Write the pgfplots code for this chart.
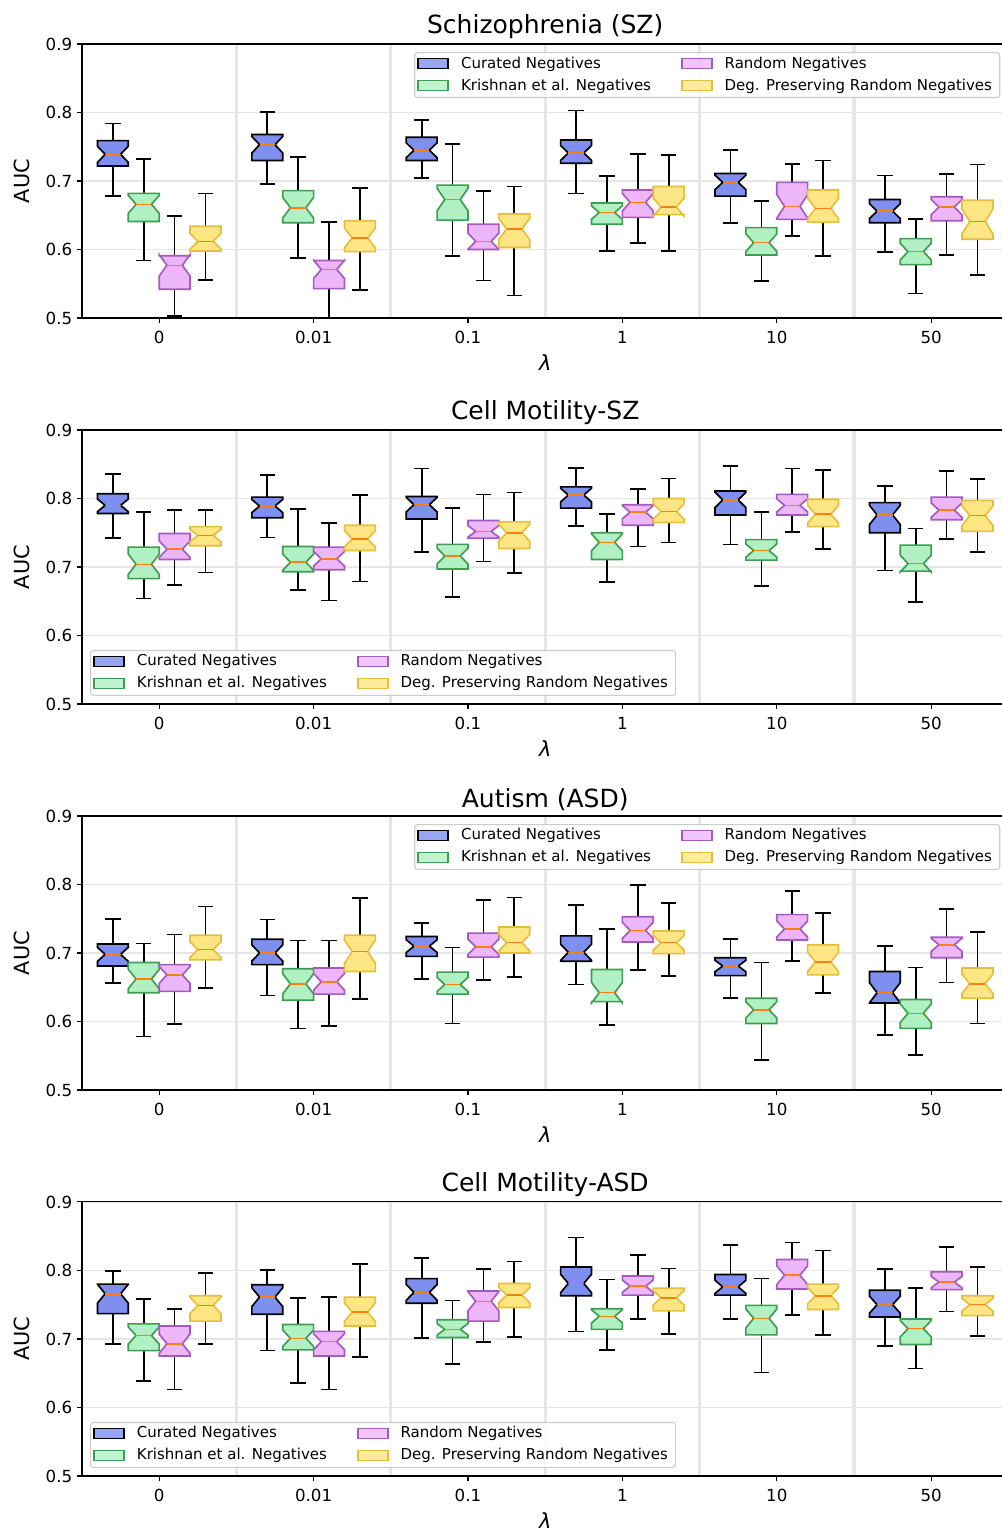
\documentclass[border=0pt]{standalone}
\usepackage{fontspec}
\setmainfont{DejaVu Sans}
\usepackage{pgfplots}
\pgfplotsset{compat=1.18}
\usepgfplotslibrary{statistics}
\usetikzlibrary{calc}

\definecolor{curfill}{HTML}{7F8FEF}
\definecolor{krifill}{HTML}{B0F0C2}
\definecolor{kriedge}{HTML}{3D9E52}
\definecolor{ranfill}{HTML}{EDB6F9}
\definecolor{ranedge}{HTML}{A45BC0}
\definecolor{degfill}{HTML}{FEE685}
\definecolor{degedge}{HTML}{E5BE3B}
\definecolor{medc}{HTML}{FF7F0E}
\definecolor{gridc}{HTML}{E6E6E6}

% notch half length = 0.32 * IQR
\pgfplotsset{
  legend image code/.code={\draw[#1, sharp corners, line width=1.2pt] (0pt,-3.2pt) rectangle (21.6pt,4pt);},
  boxplot/draw direction=y,
  boxplot/box extend=0.2,
  boxplot/whisker extend=0.1,
  boxplot/every whisker/.style={draw=black, line width=1.2pt},
  boxplot/every median/.style={draw=medc, line width=1.1pt},
  boxplot/draw/box/.code={%
    \path[draw, fill, /pgfplots/boxplot/every box/.try]
      (boxplot box cs:\pgfplotsboxplotvalue{lower quartile},0)
      -- ($(boxplot box cs:\pgfplotsboxplotvalue{median},0)-0.32*(boxplot box cs:\pgfplotsboxplotvalue{upper quartile},0)+0.32*(boxplot box cs:\pgfplotsboxplotvalue{lower quartile},0)$)
      -- (boxplot box cs:\pgfplotsboxplotvalue{median},0.25)
      -- ($(boxplot box cs:\pgfplotsboxplotvalue{median},0)+0.32*(boxplot box cs:\pgfplotsboxplotvalue{upper quartile},0)-0.32*(boxplot box cs:\pgfplotsboxplotvalue{lower quartile},0)$)
      -- (boxplot box cs:\pgfplotsboxplotvalue{upper quartile},0)
      -- (boxplot box cs:\pgfplotsboxplotvalue{upper quartile},1)
      -- ($(boxplot box cs:\pgfplotsboxplotvalue{median},1)+0.32*(boxplot box cs:\pgfplotsboxplotvalue{upper quartile},1)-0.32*(boxplot box cs:\pgfplotsboxplotvalue{lower quartile},1)$)
      -- (boxplot box cs:\pgfplotsboxplotvalue{median},0.75)
      -- ($(boxplot box cs:\pgfplotsboxplotvalue{median},1)-0.32*(boxplot box cs:\pgfplotsboxplotvalue{upper quartile},1)+0.32*(boxplot box cs:\pgfplotsboxplotvalue{lower quartile},1)$)
      -- (boxplot box cs:\pgfplotsboxplotvalue{lower quartile},1)
      -- cycle;
  },
  boxplot/draw/median/.code={%
    \draw[/pgfplots/boxplot/every median/.try]
      (boxplot box cs:\pgfplotsboxplotvalue{median},0.25) --
      (boxplot box cs:\pgfplotsboxplotvalue{median},0.75);
  },
  cur/.style={boxplot/every box/.style={fill=curfill, draw=black, line width=1.2pt}},
  kri/.style={boxplot/every box/.style={fill=krifill, draw=kriedge, line width=1.2pt}},
  ran/.style={boxplot/every box/.style={fill=ranfill, draw=ranedge, line width=1.2pt}},
  deg/.style={boxplot/every box/.style={fill=degfill, draw=degedge, line width=1.2pt}},
  panel/.style={
    width=667pt, height=197.3pt, scale only axis,
    xmin=-0.5, xmax=5.5, ymin=0.5, ymax=0.9,
    xtick={0,1,2,3,4,5}, xticklabels={0,0.01,0.1,1,10,50},
    minor xtick={0.5,1.5,2.5,3.5,4.5},
    ytick={0.5,0.6,0.7,0.8,0.9},
    yticklabel style={/pgf/number format/fixed, /pgf/number format/fixed zerofill, /pgf/number format/precision=1},
    /pgf/number format/assume math mode=true,
    ymajorgrids, xminorgrids,
    major grid style={draw=gridc, line width=1.2pt},
    minor grid style={draw=gridc, line width=2.2pt},
    tick pos=left, tick align=outside,
    major tick length=3.5pt, minor tick length=0pt,
    every tick/.style={black, line width=0.8pt},
    axis line style={line width=0.8pt},
    ticklabel style={font=\fontsize{12}{14}\selectfont},
    xticklabel style={yshift=-2.5pt},
    title style={font=\fontsize{18}{21}\selectfont, yshift=-6pt},
    label style={font=\fontsize{15}{18}\selectfont},
    xlabel style={inner sep=0pt, yshift=-4.1pt},
    ylabel shift=4.5pt,
    xlabel={\textit{λ}}, ylabel={AUC},
    legend columns=2, legend cell align=left,
    legend style={font=\fontsize{10.8}{13}\selectfont, draw=black!20, rounded corners=2pt,
      fill=white, fill opacity=0.8, text opacity=1, line width=0.8pt,
      inner xsep=2pt, inner ysep=2.5pt, row sep=4.3pt,
      nodes={inner ysep=0.5pt, inner xsep=3.6pt, text height=8.1pt, text depth=2.4pt},
      /tikz/every odd column/.append style={column sep=5pt},
      /tikz/every even column/.append style={column sep=18pt}},
  },
  legUR/.style={legend style={at={(1,1)}, anchor=north east, xshift=-5.8pt, yshift=-5.8pt}},
  legLL/.style={legend style={at={(0,0)}, anchor=south west, xshift=5.8pt, yshift=5.8pt}},
}

% style, position, upper whisker, upper quartile, median, lower quartile, lower whisker
\newcommand{\bx}[7]{\addplot[#1, forget plot, boxplot prepared={draw position=#2,
  upper whisker=#3, upper quartile=#4, median=#5, lower quartile=#6, lower whisker=#7}] coordinates {};}

\newcommand{\legs}{%
  \addlegendimage{fill=curfill, draw=black}\addlegendentry{Curated Negatives}
  \addlegendimage{fill=ranfill, draw=ranedge}\addlegendentry{Random Negatives}
  \addlegendimage{fill=krifill, draw=kriedge}\addlegendentry{Krishnan et al. Negatives}
  \addlegendimage{fill=degfill, draw=degedge}\addlegendentry{Deg. Preserving Random Negatives}
}

\begin{document}
\begin{tikzpicture}

% ---------- Schizophrenia (SZ)
\begin{axis}[panel, legUR, at={(0pt,0pt)}, title={Schizophrenia (SZ)}]
\legs
\bx{cur}{-0.3}{0.784}{0.759}{0.739}{0.722}{0.678}
\bx{kri}{-0.1}{0.732}{0.682}{0.666}{0.641}{0.584}
\bx{ran}{0.1}{0.649}{0.591}{0.577}{0.542}{0.503}
\bx{deg}{0.3}{0.682}{0.634}{0.612}{0.598}{0.556}
\bx{cur}{0.7}{0.801}{0.768}{0.753}{0.730}{0.696}
\bx{kri}{0.9}{0.735}{0.686}{0.661}{0.639}{0.588}
\bx{ran}{1.1}{0.640}{0.584}{0.571}{0.543}{0.501}
\bx{deg}{1.3}{0.690}{0.642}{0.617}{0.597}{0.541}
\bx{cur}{1.7}{0.789}{0.764}{0.745}{0.730}{0.704}
\bx{kri}{1.9}{0.754}{0.694}{0.673}{0.643}{0.591}
\bx{ran}{2.1}{0.685}{0.637}{0.612}{0.600}{0.555}
\bx{deg}{2.3}{0.692}{0.652}{0.630}{0.603}{0.533}
\bx{cur}{2.7}{0.803}{0.760}{0.741}{0.726}{0.682}
\bx{kri}{2.9}{0.707}{0.668}{0.654}{0.637}{0.598}
\bx{ran}{3.1}{0.739}{0.687}{0.669}{0.647}{0.610}
\bx{deg}{3.3}{0.738}{0.692}{0.662}{0.651}{0.598}
\bx{cur}{3.7}{0.745}{0.711}{0.698}{0.678}{0.639}
\bx{kri}{3.9}{0.671}{0.632}{0.610}{0.592}{0.554}
\bx{ran}{4.1}{0.725}{0.698}{0.663}{0.644}{0.620}
\bx{deg}{4.3}{0.730}{0.687}{0.660}{0.640}{0.591}
\bx{cur}{4.7}{0.708}{0.673}{0.656}{0.639}{0.596}
\bx{kri}{4.9}{0.645}{0.616}{0.597}{0.578}{0.536}
\bx{ran}{5.1}{0.710}{0.677}{0.662}{0.642}{0.592}
\bx{deg}{5.3}{0.724}{0.672}{0.641}{0.615}{0.563}
\end{axis}

% ---------- Cell Motility-SZ
\begin{axis}[panel, legLL, at={(0pt,-277.9pt)}, title={Cell Motility-SZ}]
\legs
\bx{cur}{-0.3}{0.836}{0.807}{0.790}{0.778}{0.742}
\bx{kri}{-0.1}{0.780}{0.729}{0.704}{0.683}{0.654}
\bx{ran}{0.1}{0.783}{0.749}{0.726}{0.711}{0.674}
\bx{deg}{0.3}{0.783}{0.759}{0.746}{0.731}{0.692}
\bx{cur}{0.7}{0.834}{0.802}{0.789}{0.772}{0.743}
\bx{kri}{0.9}{0.785}{0.730}{0.707}{0.693}{0.666}
\bx{ran}{1.1}{0.764}{0.729}{0.712}{0.696}{0.651}
\bx{deg}{1.3}{0.805}{0.761}{0.741}{0.724}{0.679}
\bx{cur}{1.7}{0.844}{0.803}{0.791}{0.770}{0.722}
\bx{kri}{1.9}{0.786}{0.733}{0.716}{0.697}{0.656}
\bx{ran}{2.1}{0.806}{0.768}{0.752}{0.742}{0.708}
\bx{deg}{2.3}{0.809}{0.766}{0.750}{0.727}{0.691}
\bx{cur}{2.7}{0.845}{0.817}{0.805}{0.786}{0.760}
\bx{kri}{2.9}{0.777}{0.750}{0.736}{0.711}{0.678}
\bx{ran}{3.1}{0.814}{0.791}{0.780}{0.761}{0.730}
\bx{deg}{3.3}{0.829}{0.800}{0.781}{0.765}{0.736}
\bx{cur}{3.7}{0.847}{0.811}{0.798}{0.776}{0.733}
\bx{kri}{3.9}{0.780}{0.740}{0.724}{0.710}{0.672}
\bx{ran}{4.1}{0.844}{0.806}{0.790}{0.776}{0.751}
\bx{deg}{4.3}{0.842}{0.799}{0.777}{0.759}{0.726}
\bx{cur}{4.7}{0.818}{0.794}{0.776}{0.750}{0.695}
\bx{kri}{4.9}{0.756}{0.732}{0.705}{0.694}{0.649}
\bx{ran}{5.1}{0.840}{0.802}{0.783}{0.769}{0.741}
\bx{deg}{5.3}{0.828}{0.797}{0.775}{0.752}{0.722}
\end{axis}

% ---------- Autism (ASD)
\begin{axis}[panel, legUR, at={(0pt,-555.8pt)}, title={Autism (ASD)}]
\legs
\bx{cur}{-0.3}{0.750}{0.713}{0.698}{0.681}{0.656}
\bx{kri}{-0.1}{0.714}{0.686}{0.662}{0.642}{0.578}
\bx{ran}{0.1}{0.727}{0.683}{0.668}{0.644}{0.596}
\bx{deg}{0.3}{0.768}{0.726}{0.705}{0.690}{0.649}
\bx{cur}{0.7}{0.749}{0.720}{0.700}{0.683}{0.638}
\bx{kri}{0.9}{0.718}{0.677}{0.655}{0.631}{0.590}
\bx{ran}{1.1}{0.718}{0.678}{0.658}{0.640}{0.593}
\bx{deg}{1.3}{0.780}{0.726}{0.702}{0.673}{0.633}
\bx{cur}{1.7}{0.744}{0.724}{0.710}{0.695}{0.662}
\bx{kri}{1.9}{0.708}{0.672}{0.654}{0.640}{0.597}
\bx{ran}{2.1}{0.777}{0.729}{0.709}{0.694}{0.661}
\bx{deg}{2.3}{0.781}{0.738}{0.715}{0.700}{0.665}
\bx{cur}{2.7}{0.770}{0.725}{0.701}{0.688}{0.654}
\bx{kri}{2.9}{0.735}{0.676}{0.642}{0.629}{0.595}
\bx{ran}{3.1}{0.799}{0.753}{0.733}{0.716}{0.675}
\bx{deg}{3.3}{0.773}{0.732}{0.715}{0.699}{0.666}
\bx{cur}{3.7}{0.720}{0.693}{0.681}{0.667}{0.634}
\bx{kri}{3.9}{0.686}{0.634}{0.617}{0.597}{0.544}
\bx{ran}{4.1}{0.790}{0.756}{0.735}{0.719}{0.688}
\bx{deg}{4.3}{0.758}{0.712}{0.687}{0.668}{0.642}
\bx{cur}{4.7}{0.710}{0.673}{0.642}{0.627}{0.580}
\bx{kri}{4.9}{0.679}{0.632}{0.612}{0.590}{0.551}
\bx{ran}{5.1}{0.764}{0.723}{0.712}{0.693}{0.657}
\bx{deg}{5.3}{0.731}{0.678}{0.655}{0.634}{0.597}
\end{axis}

% ---------- Cell Motility-ASD
\begin{axis}[panel, legLL, at={(0pt,-833.7pt)}, title={Cell Motility-ASD}]
\legs
\bx{cur}{-0.3}{0.799}{0.780}{0.766}{0.737}{0.693}
\bx{kri}{-0.1}{0.758}{0.722}{0.705}{0.683}{0.639}
\bx{ran}{0.1}{0.744}{0.719}{0.693}{0.675}{0.626}
\bx{deg}{0.3}{0.796}{0.763}{0.749}{0.726}{0.693}
\bx{cur}{0.7}{0.801}{0.779}{0.761}{0.736}{0.683}
\bx{kri}{0.9}{0.760}{0.721}{0.701}{0.684}{0.636}
\bx{ran}{1.1}{0.761}{0.711}{0.696}{0.675}{0.626}
\bx{deg}{1.3}{0.809}{0.761}{0.739}{0.719}{0.674}
\bx{cur}{1.7}{0.818}{0.788}{0.768}{0.752}{0.701}
\bx{kri}{1.9}{0.756}{0.728}{0.714}{0.702}{0.663}
\bx{ran}{2.1}{0.802}{0.770}{0.755}{0.726}{0.696}
\bx{deg}{2.3}{0.813}{0.781}{0.764}{0.746}{0.703}
\bx{cur}{2.7}{0.848}{0.805}{0.781}{0.763}{0.711}
\bx{kri}{2.9}{0.787}{0.744}{0.733}{0.714}{0.684}
\bx{ran}{3.1}{0.823}{0.792}{0.777}{0.764}{0.729}
\bx{deg}{3.3}{0.803}{0.774}{0.760}{0.741}{0.707}
\bx{cur}{3.7}{0.837}{0.794}{0.776}{0.764}{0.729}
\bx{kri}{3.9}{0.788}{0.749}{0.730}{0.706}{0.651}
\bx{ran}{4.1}{0.841}{0.816}{0.793}{0.773}{0.735}
\bx{deg}{4.3}{0.829}{0.780}{0.763}{0.743}{0.706}
\bx{cur}{4.7}{0.802}{0.771}{0.750}{0.732}{0.690}
\bx{kri}{4.9}{0.774}{0.729}{0.715}{0.692}{0.657}
\bx{ran}{5.1}{0.834}{0.798}{0.783}{0.772}{0.740}
\bx{deg}{5.3}{0.805}{0.763}{0.750}{0.734}{0.704}
\end{axis}

\pgfresetboundingbox
\path (-59.04pt,229pt) rectangle (662.4pt,-871.9pt);
\end{tikzpicture}
\end{document}
